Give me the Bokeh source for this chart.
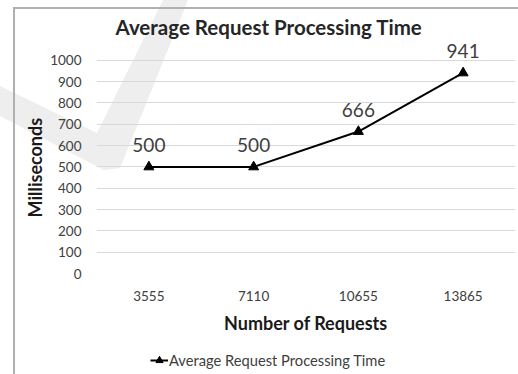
from urllib.parse import quote
from bokeh.plotting import figure
from bokeh.layouts import column
from bokeh.models import ColumnDataSource, Legend, LegendItem, FixedTicker, Range1d, Title
from bokeh.core.properties import value
from bokeh.embed import file_html
from bokeh.resources import INLINE

requests = ["3555", "7110", "10655", "13865"]
avg_time = [500, 500, 666, 941]
y_ticks = [0, 100, 200, 300, 400, 500, 600, 700, 800, 900, 1000]
series_name = "Average Request Processing Time"
title_text = "Average Request Processing Time"
x_title = "Number of Requests"
y_title = "Milliseconds"

FONT = "Lato"
W, H, LEG_H = 518, 374, 30
src = ColumnDataSource(dict(x=requests, y=avg_time, label=[str(v) for v in avg_time]))

# page decoration: faint watermark and the chart's outer frame, as a CSS background
bg_svg = (
    f'<svg xmlns="http://www.w3.org/2000/svg" width="{W}" height="{H}">'
    '<rect width="100%" height="100%" fill="white"/>'
    '<polygon points="163,0 188,0 120,168 104,170 0,116 0,86 97,133" fill="#eeeeee"/>'
    '<path d="M14,374 L14,8 L518,8" fill="none" stroke="#b0b0b0" stroke-width="2"/>'
    '</svg>'
)
bg_css = {"background-image": f"url(\"data:image/svg+xml;utf8,{quote(bg_svg)}\")",
          "background-repeat": "no-repeat"}

p = figure(width=W, height=H - LEG_H, x_range=requests, y_range=Range1d(0, 1112),
           output_backend="svg", toolbar_location=None,
           min_border_left=96, min_border_right=3, min_border_top=36, min_border_bottom=71)

p.outline_line_color = None
p.background_fill_color = None
p.border_fill_color = None

p.title.text = title_text
p.title.text_font = FONT
p.title.text_font_size = "20.5px"
p.title.text_font_style = "bold"
p.title.text_color = "#262626"
p.title.align = "left"
p.title.offset = 19
p.title.standoff = -4

p.xgrid.grid_line_color = None
p.ygrid.grid_line_color = "#d9d9d9"
p.ygrid.grid_line_width = 1
p.yaxis.ticker = FixedTicker(ticks=y_ticks)

for ax in (p.xaxis[0], p.yaxis[0]):
    ax.axis_line_color = None
    ax.major_tick_line_color = None
    ax.minor_tick_line_color = None
    ax.major_tick_in = 0
    ax.major_tick_out = 0
    ax.minor_tick_in = 0
    ax.minor_tick_out = 0
    ax.major_label_text_font = FONT
    ax.major_label_text_font_size = "13.5px"
    ax.major_label_text_color = "#404040"
    ax.axis_label_text_font = FONT
    ax.axis_label_text_font_size = "18px"
    ax.axis_label_text_font_style = "bold"
    ax.axis_label_text_color = "#1a1a1a"

p.yaxis.major_label_standoff = 15
p.xaxis.axis_label = x_title
p.xaxis.major_label_standoff = 17
p.xaxis.axis_label_standoff = 8

yt = Title(text=y_title, align="left", offset=56, standoff=3, text_font=FONT,
           text_font_size="18px", text_font_style="bold", text_color="#1a1a1a")
p.add_layout(yt, "left")

ln = p.line("x", "y", source=src, line_color="black", line_width=2)
mk = p.scatter("x", "y", source=src, marker="triangle", size=10, fill_color="black", line_color="black")
p.text("x", "y", text="label", source=src, text_font=value(FONT), y_offset=-22,
       text_align="center", text_baseline="middle", text_font_size="19px", text_color="#404040")

# legend row below the chart
q = figure(width=W, height=LEG_H, x_range=Range1d(0, 1), y_range=Range1d(0, 1),
           output_backend="svg", toolbar_location=None, min_border=0)
q.outline_line_color = None
q.background_fill_color = None
q.border_fill_color = None
q.axis.visible = False
q.grid.visible = False
lq = q.line(x=[-5, -4], y=[-5, -4], line_color="black", line_width=2)
mq = q.scatter(x=[-5], y=[-5], marker="triangle", size=9, fill_color="black", line_color="black")
legend = Legend(items=[LegendItem(label=series_name, renderers=[lq, mq])],
                location=(54, 5), orientation="horizontal", border_line_color=None,
                label_text_font=FONT, label_text_font_size="14.7px", label_text_color="#404040",
                glyph_width=18, glyph_height=18, label_standoff=1, padding=2, margin=0,
                background_fill_alpha=0)
q.add_layout(legend)

layout = column(p, q, spacing=0, styles=bg_css)
open("out.html", "w").write(file_html(layout, INLINE))
